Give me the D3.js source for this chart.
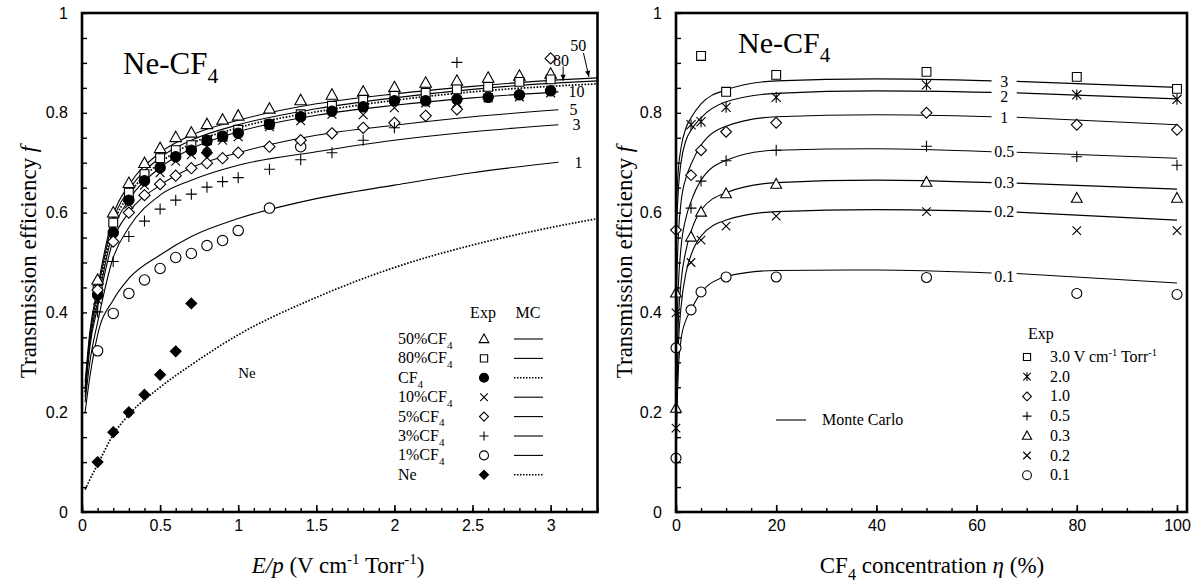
<!DOCTYPE html>
<html>
<head>
<meta charset="utf-8">
<script src="https://cdn.jsdelivr.net/npm/d3@7"></script>
<style>
  body { margin: 0; background: #fff; }
  svg { font-family: "Liberation Serif", "Times New Roman", serif; }
</style>
</head>
<body>
<svg id="chart" width="1193" height="584"></svg>
<script>
// ---------- Left panel: transmission efficiency vs E/p ----------
const ePts = [0.1,0.2,0.3,0.4,0.5,0.6,0.7,0.8,0.9,1.0,1.2,1.4,1.6,1.8,2.0,2.2,2.4,2.6,2.8,3.0];
const exp50 = [0.465,0.600,0.659,0.699,0.729,0.751,0.760,0.777,0.786,0.794,0.808,0.825,0.836,0.842,0.851,0.860,0.864,0.870,0.874,0.878];
const exp80 = [0.445,0.580,0.640,0.677,0.709,0.725,0.735,0.745,0.752,0.766,0.777,0.797,0.814,0.826,0.834,0.840,0.847,0.852,0.862,0.867];
const expCF4 = [0.435,0.560,0.625,0.664,0.690,0.712,0.725,0.744,0.753,0.759,0.777,0.792,0.803,0.812,0.824,0.824,0.827,0.831,0.836,0.844];
const exp10 = [0.425,0.548,0.617,0.655,0.680,0.703,0.716,0.733,0.745,0.752,0.772,0.784,0.797,0.796,0.810,0.820,0.820,0.830,0.832,0.840];
const e5 = [0.1,0.2,0.3,0.4,0.5,0.6,0.7,0.8,0.9,1.0,1.2,1.4,1.6,1.8,2.0,2.2,2.4,3.0];
const exp5 = [0.445,0.542,0.600,0.635,0.657,0.674,0.689,0.699,0.709,0.720,0.732,0.745,0.759,0.770,0.780,0.794,0.807,0.909];
const e3 = [0.1,0.2,0.3,0.4,0.5,0.6,0.7,0.8,0.9,1.0,1.2,1.4,1.6,1.8,2.0,2.4];
const exp3 = [0.401,0.502,0.552,0.583,0.607,0.625,0.637,0.651,0.662,0.670,0.687,0.706,0.720,0.745,0.770,0.901];
const e1 = [0.1,0.2,0.3,0.4,0.5,0.6,0.7,0.8,0.9,1.0,1.2,1.4];
const exp1 = [0.323,0.398,0.438,0.465,0.488,0.510,0.518,0.534,0.544,0.564,0.609,0.732];
const eNe = [0.1,0.2,0.3,0.4,0.5,0.6,0.7,0.8];
const expNe = [0.100,0.160,0.200,0.235,0.275,0.322,0.418,0.720];

// Monte Carlo curves (left)
const mcE = [0.02,0.05,0.1,0.2,0.3,0.5,0.7,1.0,1.5,2.0,2.5,3.05,3.3];
const mc50 = [0.26,0.36,0.45,0.595,0.655,0.72,0.755,0.785,0.818,0.838,0.853,0.866,0.870];
const mc80 = [0.25,0.35,0.44,0.585,0.645,0.71,0.745,0.776,0.808,0.830,0.847,0.860,0.864];
const mcCF4 = [0.24,0.345,0.43,0.575,0.635,0.70,0.738,0.770,0.802,0.825,0.842,0.854,0.858];
const mc10 = [0.24,0.34,0.42,0.565,0.625,0.69,0.728,0.762,0.795,0.815,0.830,0.842];
const mc5 = [0.23,0.33,0.41,0.545,0.60,0.655,0.69,0.72,0.755,0.775,0.792,0.806];
const mc3 = [0.22,0.30,0.38,0.51,0.57,0.635,0.665,0.695,0.722,0.745,0.762,0.776];
const mc1 = [0.20,0.27,0.355,0.425,0.468,0.515,0.552,0.588,0.628,0.655,0.68,0.701];
const mcNeE = [0.02,0.05,0.1,0.2,0.3,0.5,0.7,1.0,1.5,2.0,2.5,3.0,3.3];
const mcNe = [0.045,0.065,0.095,0.155,0.195,0.25,0.295,0.355,0.43,0.49,0.535,0.57,0.588];

// ---------- Right panel: transmission efficiency vs CF4 concentration ----------
const eta30 = [5,10,20,50,80,100];
const f30 = [0.914,0.842,0.876,0.882,0.872,0.848];
const eta20 = [3,5,10,20,50,80,100];
const f20 = [0.776,0.782,0.811,0.831,0.856,0.836,0.827];
const eta10 = [0,3,5,10,20,50,80,100];
const f10 = [0.565,0.675,0.725,0.762,0.780,0.800,0.776,0.766];
const eta05 = [3,5,10,20,50,80,100];
const f05 = [0.609,0.663,0.704,0.725,0.733,0.712,0.695];
const eta03 = [0,0,3,5,10,20,50,80,100];
const f03 = [0.208,0.439,0.551,0.601,0.638,0.657,0.661,0.629,0.629];
const eta02 = [0,0,3,5,10,20,50,80,100];
const f02 = [0.168,0.399,0.500,0.545,0.573,0.593,0.602,0.564,0.564];
const eta01 = [0,0,3,5,10,20,50,80,100];
const f01 = [0.108,0.329,0.405,0.441,0.471,0.471,0.470,0.438,0.436];

const mcEta = [0,0.2,0.5,1,2,3,5,10,20,40,63,68,100];
const mcR30 = [0.58,0.64,0.69,0.73,0.77,0.79,0.818,0.846,0.864,0.868,0.864,0.863,0.851];
const mcR20 = [0.52,0.59,0.65,0.70,0.745,0.765,0.79,0.822,0.839,0.844,0.841,0.840,0.828];
const mcR10 = [0.40,0.48,0.56,0.62,0.67,0.697,0.735,0.773,0.792,0.796,0.792,0.791,0.776];
const mcR05 = [0.27,0.37,0.46,0.53,0.59,0.622,0.665,0.705,0.725,0.728,0.722,0.721,0.709];
const mcR03 = [0.20,0.30,0.39,0.46,0.525,0.562,0.605,0.640,0.660,0.665,0.660,0.659,0.647];
const mcR02 = [0.15,0.25,0.34,0.41,0.48,0.515,0.553,0.585,0.602,0.606,0.602,0.601,0.585];
const mcR01 = [0.09,0.20,0.29,0.345,0.385,0.405,0.44,0.472,0.484,0.485,0.479,0.478,0.459];
const curveLabelsR = ["3","2","1","0.5","0.3","0.2","0.1"];

// tick labels
const yTickVals = [0,0.2,0.4,0.6,0.8,1];
const xTickValsL = [0,0.5,1,1.5,2,2.5,3];
const xTickValsR = [0,20,40,60,80,100];

// ---------- drawing ----------
const svg = d3.select("#chart");
const zip = (xs, ys) => xs.map((x, i) => [x, ys[i]]);

const y = d3.scaleLinear().domain([0, 1]).range([512, 13]);
const xL = d3.scaleLinear().domain([0, 3.3]).range([82, 597.5]);
const xR = d3.scaleLinear().domain([0, 102]).range([676, 1187]);

function markerPath(type, s) {
  const c = `M${s},0A${s},${s} 0 1,1 ${-s},0A${s},${s} 0 1,1 ${s},0Z`;
  switch (type) {
    case "tri": return `M0,${-s*1.05}L${s},${s*0.75}L${-s},${s*0.75}Z`;
    case "sq": return `M${-s*0.85},${-s*0.85}H${s*0.85}V${s*0.85}H${-s*0.85}Z`;
    case "circ": case "dot": return c;
    case "dia": case "fdia": return `M0,${-s}L${s},0L0,${s}L${-s},0Z`;
    case "plus": return `M${-s},0H${s}M0,${-s}V${s}`;
    case "cross": return `M${-s*0.85},${-s*0.85}L${s*0.85},${s*0.85}M${s*0.85},${-s*0.85}L${-s*0.85},${s*0.85}`;
    case "star": return `M${-s*0.85},${-s*0.85}L${s*0.85},${s*0.85}M${s*0.85},${-s*0.85}L${-s*0.85},${s*0.85}M0,${-s}V${s}`;
  }
}
const filled = t => t === "dot" || t === "fdia";

function drawMarkers(g, pts, xs, type, size) {
  g.append("g").selectAll("path").data(pts).join("path")
    .attr("transform", d => `translate(${xs(d[0])},${y(d[1])})`)
    .attr("d", markerPath(type, size))
    .attr("fill", filled(type) ? "#000" : (type === "plus" || type === "cross" || type === "star" ? "none" : "#fff"))
    .attr("stroke", "#000").attr("stroke-width", 1.1);
}

function rich(textSel, parts, size) {
  let shift = 0;
  parts.forEach(p => {
    const ts = textSel.append("tspan").text(p.t);
    let target = 0;
    if (p.sub) { target = size * 0.3; ts.attr("font-size", size * 0.7); }
    if (p.sup) { target = -size * 0.38; ts.attr("font-size", size * 0.65); }
    if (p.it) ts.attr("font-style", "italic");
    if (target - shift !== 0) ts.attr("dy", target - shift);
    shift = target;
  });
  return textSel;
}

function axes(g, xs, minorX, majorX, fmtX) {
  const yMinor = d3.range(0, 21).map(i => i * 0.05);
  g.append("g").attr("transform", `translate(${xs.range()[0]},0)`)
    .call(d3.axisLeft(y).tickValues(yMinor).tickSize(-5).tickFormat(""))
    .call(a => a.select(".domain").remove())
    .call(a => a.selectAll("line").attr("stroke-width", 1.4));
  g.append("g").attr("transform", `translate(${xs.range()[0]},0)`)
    .call(d3.axisLeft(y).tickValues(yTickVals).tickSize(0).tickPadding(14)
      .tickFormat(d => String(+d.toFixed(2))))
    .call(a => a.select(".domain").remove())
    .call(a => a.selectAll("text").attr("font-size", 16).attr("font-family", null));
  g.append("g").attr("transform", `translate(0,${y(0)})`)
    .call(d3.axisBottom(xs).tickValues(minorX).tickSize(-4).tickFormat(""))
    .call(a => a.select(".domain").remove())
    .call(a => a.selectAll("line").attr("stroke-width", 1.4));
  g.append("g").attr("transform", `translate(0,${y(0)})`)
    .call(d3.axisBottom(xs).tickValues(majorX).tickSize(-7).tickPadding(8).tickFormat(fmtX))
    .call(a => a.select(".domain").remove())
    .call(a => a.selectAll("line").attr("stroke-width", 1.6))
    .call(a => a.selectAll("text").attr("font-size", 16).attr("font-family", null));
  g.append("rect")
    .attr("x", xs.range()[0]).attr("y", y(1))
    .attr("width", xs.range()[1] - xs.range()[0]).attr("height", y(0) - y(1))
    .attr("fill", "none").attr("stroke", "#000").attr("stroke-width", 2.6);
}

// ===== Left panel =====
const gL = svg.append("g");
const lineL = d3.line().x(d => xL(d[0])).y(d => y(d[1])).curve(d3.curveMonotoneX);

const mcLeft = [
  { e: mcE, v: mc50, dot: false },
  { e: mcE, v: mc80, dot: false },
  { e: mcE, v: mcCF4, dot: true },
  { e: mcE.slice(0, 12), v: mc10, dot: false },
  { e: mcE.slice(0, 12), v: mc5, dot: false },
  { e: mcE.slice(0, 12), v: mc3, dot: false },
  { e: mcE.slice(0, 12), v: mc1, dot: false },
  { e: mcNeE, v: mcNe, dot: true }
];
mcLeft.forEach(c => {
  gL.append("path").attr("d", lineL(zip(c.e, c.v)))
    .attr("fill", "none").attr("stroke", "#000")
    .attr("stroke-width", c.dot ? 1.7 : 1.1)
    .attr("stroke-dasharray", c.dot ? "1.6,1.6" : null);
});

drawMarkers(gL, zip(ePts, exp50), xL, "tri", 5.8);
drawMarkers(gL, zip(ePts, exp80), xL, "sq", 5.2);
drawMarkers(gL, zip(ePts, exp10), xL, "cross", 5.2);
drawMarkers(gL, zip(ePts, expCF4), xL, "dot", 5.2);
drawMarkers(gL, zip(e1, exp1), xL, "circ", 5.2);
drawMarkers(gL, zip(e5, exp5), xL, "dia", 5.6);
drawMarkers(gL, zip(e3, exp3), xL, "plus", 5.5);
drawMarkers(gL, zip(eNe, expNe), xL, "fdia", 5.4);

axes(gL, xL, d3.range(0, 34).map(i => i / 10), xTickValsL, d => String(d));

// curve end labels
const endE = 3.05;
const lblL = [
  { t: "10", v: mc10[11], dx: 10 },
  { t: "5", v: mc5[11], dx: 11 },
  { t: "3", v: mc3[11], dx: 14 },
  { t: "1", v: mc1[11], dx: 16 }
];
lblL.forEach(l => {
  gL.append("text").attr("x", xL(endE) + l.dx).attr("y", y(l.v) + 5.5)
    .attr("font-size", 16).text(l.t);
});
gL.append("text").attr("x", xL(3.125)).attr("y", y(0.924)).attr("font-size", 16).text("50");
gL.append("text").attr("x", xL(3.015)).attr("y", y(0.894)).attr("font-size", 16).text("80");
function arrow(g, x1, y1, x2, y2) {
  g.append("line").attr("x1", x1).attr("y1", y1).attr("x2", x2).attr("y2", y2)
    .attr("stroke", "#000").attr("stroke-width", 1);
  const a = Math.atan2(y2 - y1, x2 - x1), L = 6, W = 2.6;
  const bx = x2 - L * Math.cos(a), by = y2 - L * Math.sin(a);
  g.append("path")
    .attr("d", `M${x2},${y2}L${bx - W * Math.sin(a)},${by + W * Math.cos(a)}L${bx + W * Math.sin(a)},${by - W * Math.cos(a)}Z`)
    .attr("fill", "#000");
}
arrow(gL, xL(3.08), y(0.893), xL(3.08), y(0.864));
arrow(gL, xL(3.21), y(0.92), xL(3.245), y(0.872));

gL.append("text").attr("x", xL(1.0)).attr("y", y(0.268)).attr("font-size", 15).text("Ne");

// title
rich(gL.append("text").attr("x", 123).attr("y", 74).attr("font-size", 31),
  [{ t: "Ne-CF" }, { t: "4", sub: true }], 31);

// legend
const legL = gL.append("g");
const legRows = [
  { lab: [{ t: "50%CF" }, { t: "4", sub: true }], m: "tri", dot: false },
  { lab: [{ t: "80%CF" }, { t: "4", sub: true }], m: "sq", dot: false },
  { lab: [{ t: "CF" }, { t: "4", sub: true }], m: "dot", dot: true },
  { lab: [{ t: "10%CF" }, { t: "4", sub: true }], m: "cross", dot: false },
  { lab: [{ t: "5%CF" }, { t: "4", sub: true }], m: "dia", dot: false },
  { lab: [{ t: "3%CF" }, { t: "4", sub: true }], m: "plus", dot: false },
  { lab: [{ t: "1%CF" }, { t: "4", sub: true }], m: "circ", dot: false },
  { lab: [{ t: "Ne" }], m: "fdia", dot: true }
];
legL.append("text").attr("x", 483).attr("y", 318).attr("text-anchor", "middle").attr("font-size", 16).text("Exp");
legL.append("text").attr("x", 528).attr("y", 318).attr("text-anchor", "middle").attr("font-size", 16).text("MC");
legRows.forEach((r, i) => {
  const cy = 339 + i * 19.4;
  rich(legL.append("text").attr("x", 398).attr("y", cy + 5).attr("font-size", 16), r.lab, 16);
  const s = r.m === "sq" ? 4.3 : r.m === "tri" ? 4.8 : 4.5;
  legL.append("path").attr("transform", `translate(484,${cy})`).attr("d", markerPath(r.m, s))
    .attr("fill", filled(r.m) ? "#000" : (r.m === "plus" || r.m === "cross" ? "none" : "#fff"))
    .attr("stroke", "#000").attr("stroke-width", 1.1);
  legL.append("line").attr("x1", 514).attr("x2", 543).attr("y1", cy).attr("y2", cy)
    .attr("stroke", "#000").attr("stroke-width", r.dot ? 1.6 : 1.1)
    .attr("stroke-dasharray", r.dot ? "1.5,1.5" : null);
});

// axis titles
rich(gL.append("text").attr("x", 338).attr("y", 573).attr("text-anchor", "middle").attr("font-size", 23),
  [{ t: "E/p", it: true }, { t: " (V cm" }, { t: "-1", sup: true }, { t: " Torr" }, { t: "-1", sup: true }, { t: ")" }], 23);
rich(gL.append("text").attr("transform", "translate(36,262) rotate(-90)").attr("text-anchor", "middle").attr("font-size", 23),
  [{ t: "Transmission efficiency " }, { t: "f", it: true }], 23);

// ===== Right panel =====
const gR = svg.append("g");
const lineR = d3.line().x(d => xR(d[0])).y(d => y(d[1])).curve(d3.curveMonotoneX);
const mcRight = [mcR30, mcR20, mcR10, mcR05, mcR03, mcR02, mcR01];
const labelOffset = [0, 4, 0, 0, 0, 0, 3];
mcRight.forEach((v, k) => {
  const pts = zip(mcEta, v);
  gR.append("path").attr("d", lineR(pts.filter(d => d[0] <= 63)))
    .attr("fill", "none").attr("stroke", "#000").attr("stroke-width", 1.1);
  gR.append("path").attr("d", lineR(pts.filter(d => d[0] >= 68)))
    .attr("fill", "none").attr("stroke", "#000").attr("stroke-width", 1.1);
  const vMid = (v[10] + v[11]) / 2;
  gR.append("text").attr("x", xR(65.5)).attr("y", y(vMid) + 5.5 + labelOffset[k])
    .attr("text-anchor", "middle").attr("font-size", 16).text(curveLabelsR[k]);
});

drawMarkers(gR, zip(eta01, f01), xR, "circ", 5.0);
drawMarkers(gR, zip(eta02, f02), xR, "cross", 5.0);
drawMarkers(gR, zip(eta03, f03), xR, "tri", 5.4);
drawMarkers(gR, zip(eta05, f05), xR, "plus", 5.4);
drawMarkers(gR, zip(eta10, f10), xR, "dia", 5.4);
drawMarkers(gR, zip(eta20, f20), xR, "star", 5.4);
drawMarkers(gR, zip(eta30, f30), xR, "sq", 5.2);

axes(gR, xR, d3.range(0, 101, 5), xTickValsR, d => String(d));

rich(gR.append("text").attr("x", 738).attr("y", 53).attr("font-size", 30),
  [{ t: "Ne-CF" }, { t: "4", sub: true }], 30);

// legends
gR.append("line").attr("x1", 776).attr("x2", 806).attr("y1", 420).attr("y2", 420)
  .attr("stroke", "#000").attr("stroke-width", 1.1);
gR.append("text").attr("x", 822).attr("y", 425).attr("font-size", 16).text("Monte Carlo");

gR.append("text").attr("x", 1028).attr("y", 339).attr("font-size", 16).text("Exp");
const legR = [
  { m: "sq", lab: [{ t: "3.0 V cm" }, { t: "-1", sup: true }, { t: " Torr" }, { t: "-1", sup: true }] },
  { m: "star", lab: [{ t: "2.0" }] },
  { m: "dia", lab: [{ t: "1.0" }] },
  { m: "plus", lab: [{ t: "0.5" }] },
  { m: "tri", lab: [{ t: "0.3" }] },
  { m: "cross", lab: [{ t: "0.2" }] },
  { m: "circ", lab: [{ t: "0.1" }] }
];
legR.forEach((r, i) => {
  const cy = 357 + i * 19.7;
  const s = r.m === "sq" ? 4.2 : r.m === "tri" ? 4.6 : 4.4;
  gR.append("path").attr("transform", `translate(1027,${cy})`).attr("d", markerPath(r.m, s))
    .attr("fill", r.m === "plus" || r.m === "cross" || r.m === "star" ? "none" : "#fff")
    .attr("stroke", "#000").attr("stroke-width", 1.1);
  rich(gR.append("text").attr("x", 1050).attr("y", cy + 5).attr("font-size", 16), r.lab, 16);
});

rich(gR.append("text").attr("x", 932).attr("y", 573).attr("text-anchor", "middle").attr("font-size", 23),
  [{ t: "CF" }, { t: "4", sub: true }, { t: " concentration " }, { t: "η", it: true }, { t: " (%)" }], 23);
rich(gR.append("text").attr("transform", "translate(632,262) rotate(-90)").attr("text-anchor", "middle").attr("font-size", 23),
  [{ t: "Transmission efficiency " }, { t: "f", it: true }], 23);
</script>
</body>
</html>
